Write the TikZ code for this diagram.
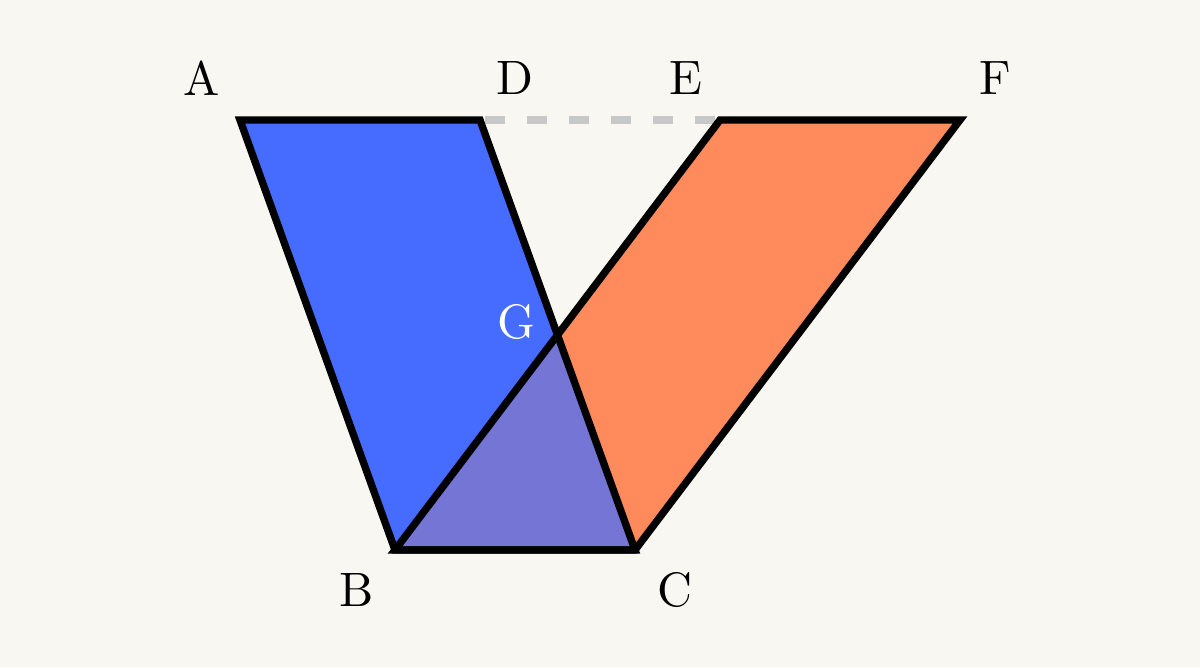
\documentclass[tikz,border=0pt]{standalone}
\usetikzlibrary{calc}
\definecolor{bg}{HTML}{F8F7F2}
\definecolor{blueA}{HTML}{466BFF}
\definecolor{orangeA}{HTML}{FF8A5C}
\definecolor{purpleA}{HTML}{7575D6}
\definecolor{dashgray}{HTML}{C8C8C8}
\tikzset{
  lbl/.style={font=\fontsize{10}{12}\selectfont, scale=2.75, text=black},
  edge/.style={draw=black, line width=4.2pt, line join=miter},
}
\begin{document}
\begin{tikzpicture}
\fill[bg] (0,0) rectangle (24,13.34);
\useasboundingbox (0,0) rectangle (24,13.34);
\coordinate (A) at (4.8,10.94);
\coordinate (D) at (9.6,10.94);
\coordinate (E) at (14.4,10.94);
\coordinate (F) at (19.2,10.94);
\coordinate (B) at (7.9,2.34);
\coordinate (C) at (12.7,2.34);
\coordinate (G) at ($(B)!0.5!(E)$);
\draw[dashgray, line width=4pt, dash pattern=on 0.4cm off 0.44cm, dash phase=-0.1cm] (D) -- (E);
\fill[blueA] (A) -- (D) -- (C) -- (B) -- cycle;
\fill[orangeA] (E) -- (F) -- (C) -- (B) -- cycle;
\fill[purpleA] (B) -- (G) -- (C) -- cycle;
\draw[edge] (A) -- (D) -- (C) -- (B) -- cycle;
\draw[edge] (E) -- (F) -- (C) -- (B) -- cycle;
\node[lbl] (lA) at (4.04,11.78) {A};
\node[lbl] (lD) at (10.3,11.78) {D};
\node[lbl] (lE) at (13.72,11.78) {E};
\node[lbl] (lF) at (19.9,11.78) {F};
\node[lbl] (lB) at (7.14,1.54) {B};
\node[lbl] (lC) at (13.5,1.54) {C};
\node[lbl, text=white] (lG) at (10.32,6.9) {G};
\end{tikzpicture}
\end{document}
